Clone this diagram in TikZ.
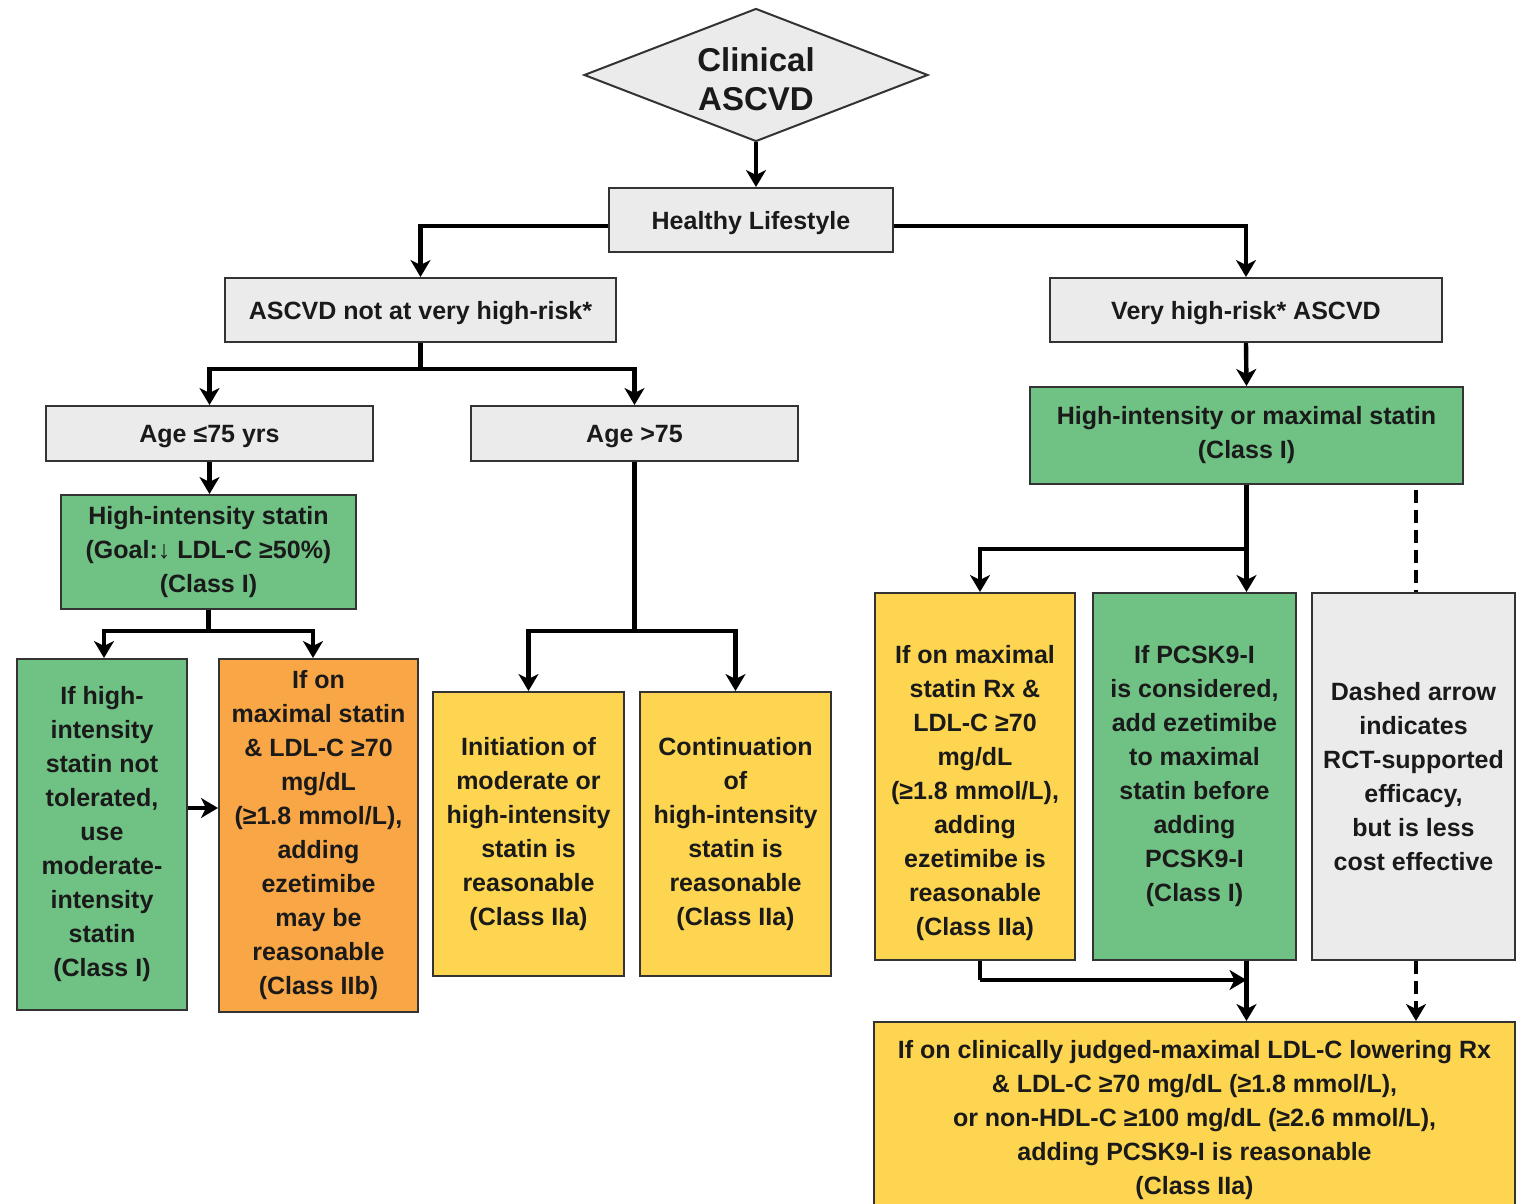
\documentclass[tikz,border=0pt]{standalone}
\usepackage{fontspec}
\setmainfont{Liberation Sans}
\usetikzlibrary{arrows.meta,shapes.geometric}
\definecolor{bgray}{HTML}{EBEBEB}
\definecolor{bgreen}{HTML}{70C184}
\definecolor{byellow}{HTML}{FDD550}
\definecolor{borange}{HTML}{F9A746}
\definecolor{bord}{HTML}{333333}
\definecolor{txt}{HTML}{1A1A1A}
\tikzset{
  boxtext/.style={align=center, text=txt, font=\bfseries\fontsize{12.5}{17}\selectfont},
  box/.style={boxtext, draw=bord, line width=1pt, inner sep=0pt},
  oneline/.style={text height=9pt, text depth=0pt},
  gbox/.style={box, fill=bgray},
  grbox/.style={box, fill=bgreen},
  ybox/.style={box, fill=byellow},
  obox/.style={box, fill=borange},
  sz/.style 2 args={minimum width=#1*0.5pt, minimum height=#2*0.5pt},
  conn/.style={line width=2.2pt, line join=miter, black},
  arr/.style={conn, -{Stealth[length=8.5pt,width=10pt,inset=2.5pt]}},
  dsh/.style={conn, dash pattern=on 6.5pt off 3.5pt},
  dsharr/.style={dsh, -{Stealth[length=8.5pt,width=10pt,inset=2.5pt]}}
}
\begin{document}
\begin{tikzpicture}[x=0.5pt,y=-0.5pt]
\useasboundingbox (0,0) rectangle (1522,1204);
\fill[white] (0,0) rectangle (1522,1204);
\clip (0,0) rectangle (1522,1204);

% nodes
\node[gbox, diamond, sz={344}{133}] (dia) at (756,75) {};
\node[boxtext, font=\bfseries\fontsize{16.5}{19.5}\selectfont] (diat) at (756,79) {Clinical\\ASCVD};
\node[gbox, oneline, sz={284}{64}] (healthy) at (751,220) {Healthy Lifestyle};
\node[gbox, oneline, sz={391}{64}] (notvh) at (420.5,310) {ASCVD not at very high-risk*};
\node[gbox, oneline, sz={392}{64}] (vh) at (1246,310) {Very high-risk* ASCVD};
\node[gbox, oneline, sz={327}{55}] (age75) at (209.5,433.5) {Age ≤75 yrs};
\node[gbox, oneline, sz={327}{55}] (agegt) at (634.5,433.5) {Age >75};
\node[grbox, sz={295}{114}] (his) at (208.5,552) {High-intensity statin\\(Goal:↓ LDL-C ≥50\%)\\(Class I)};
\node[grbox, sz={170}{351}] (ntol) at (102,834.5) {If high-\\intensity\\statin not\\tolerated,\\use\\moderate-\\intensity\\statin\\(Class I)};
\node[obox, sz={199}{353}] (ezeb) at (318.5,835.5) {If on\\maximal statin\\\& LDL-C ≥70\\mg/dL\\(≥1.8 mmol/L),\\adding\\ezetimibe\\may be\\reasonable\\(Class IIb)};
\node[ybox, sz={191}{284}] (init) at (528.5,834) {Initiation of\\moderate or\\high-intensity\\statin is\\reasonable\\(Class IIa)};
\node[ybox, sz={191}{284}] (cont) at (735.5,834) {Continuation\\of\\high-intensity\\statin is\\reasonable\\(Class IIa)};
\node[grbox, sz={433}{97}] (hmax) at (1246.5,435.5) {High-intensity or maximal statin\\(Class I)};
\node[ybox, sz={200}{367}] (ymax) at (975,776.5) {};
\node[boxtext] (ymaxt) at (975,793) {If on maximal\\statin Rx \&\\LDL-C ≥70\\mg/dL\\(≥1.8 mmol/L),\\adding\\ezetimibe is\\reasonable\\(Class IIa)};
\node[grbox, sz={203}{367}] (pcsk) at (1194.5,776.5) {If PCSK9-I\\is considered,\\add ezetimibe\\to maximal\\statin before\\adding\\PCSK9-I\\(Class I)};
\node[gbox, sz={203}{367}] (rct) at (1413.5,776.5) {Dashed arrow\\indicates\\RCT-supported\\efficacy,\\but is less\\cost effective};
\node[ybox, sz={641}{196}] (final) at (1194.5,1120) {If on clinically judged-maximal LDL-C lowering Rx\\\& LDL-C ≥70 mg/dL (≥1.8 mmol/L),\\or non-HDL-C ≥100 mg/dL (≥2.6 mmol/L),\\adding PCSK9-I is reasonable\\(Class IIa)};

% connectors
\draw[arr] (dia.south) -- (dia.south |- healthy.north);
\draw[arr] ([yshift=-3pt]healthy.west) -| (notvh.north);
\draw[arr] ([yshift=-3pt]healthy.east) -| (vh.north);

\draw[conn] (notvh.south) -- ++(0,26) coordinate (j1);
\draw[arr] (j1) -| (age75.north);
\draw[arr] (j1) -| (agegt.north);

\draw[arr] (age75.south) -- (age75.south |- his.north);
\draw[conn] (his.south) -- ++(0,21) coordinate (j2);
\draw[arr] (j2) -| ([xshift=1pt]ntol.north);
\draw[arr] (j2) -| ([xshift=-2.75pt]ezeb.north);
\path ([yshift=13.25pt]ntol.east) coordinate (a1);
\draw[arr] (a1) -- (a1 -| ezeb.west);

\draw[conn] (agegt.south) -- (agegt.south |- j2) coordinate (j3);
\draw[arr] (j3) -| (init.north);
\draw[arr] (j3) -| (cont.north);

\draw[arr] (vh.south) -- (hmax.north);
\draw[arr] (hmax.south) -- (hmax.south |- pcsk.north);
\path (hmax.south) ++(0,64) coordinate (j4);
\draw[arr] (j4) -| ([xshift=2.5pt]ymax.north);
\path ([xshift=1.25pt]rct.north) coordinate (dtop);
\draw[dsh] (dtop |- hmax.south) ++(0,5) -- (dtop);

\draw[conn] ([xshift=2.5pt]ymax.south) -- ++(0,19) coordinate (j5);
\draw[arr] (j5) -- (j5 -| hmax.south);
\draw[arr] (hmax.south |- pcsk.south) -- (hmax.south |- final.north);
\draw[dsharr] (dtop |- rct.south) -- (dtop |- final.north);
\end{tikzpicture}
\end{document}
